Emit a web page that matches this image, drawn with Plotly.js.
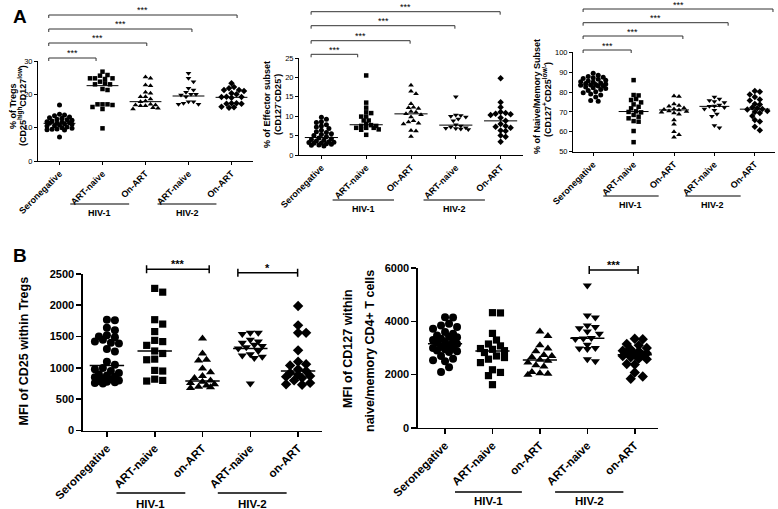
<!DOCTYPE html>
<html><head><meta charset="utf-8">
<script src="https://cdn.plot.ly/plotly-3.0.1.min.js"></script>
<style>body{margin:0;background:#fff}#chart{width:778px;height:509px}</style>
</head><body><div id="chart"></div>
<script>
const W=778,H=509;
const catsA=['Seronegative','ART-naive','On-ART','ART-naive','On-ART'];
const catsB=['Seronegative','ART-naive','on-ART','ART-naive','on-ART'];
const groupNames=['HIV-1','HIV-2'];
const symbols=['circle','square','triangle-up','triangle-down','diamond'];

// Panel A1: % of Tregs
const tregSero=[16.8,14.0,13.8,13.6,13.2,13.0,12.8,12.5,12.4,12.2,12.0,11.8,11.7,11.5,11.4,11.3,11.2,11.0,10.8,10.6,10.5,10.2,10.0,9.8,9.6,9.5,9.4,9.3,7.2];
const tregNaive1=[26.8,25.8,25.6,24.8,24.8,24.8,24.6,23.8,23.3,23.0,23.0,21.6,21.3,17.0,17.0,17.0,16.8,16.2,15.6,9.8];
const tregArt1=[25.2,24.8,22.8,22.6,20.6,20.3,19.3,19.3,18.6,18.0,17.8,17.0,16.8,16.8,16.6,16.6,16.0,15.8,15.6];
const tregNaive2=[26.3,24.8,23.8,21.8,21.3,20.6,20.0,20.0,19.8,19.3,17.8,17.8,17.3,17.0,17.0];
const tregArt2=[23.3,22.2,21.8,21.3,21.3,21.0,20.3,20.0,19.3,19.2,19.2,19.0,17.3,17.3,17.2,17.2,16.3,16.1,16.0];
const tregMed=[11.3,22.6,17.8,19.5,19.1];

// Panel A2: % of Effector subset
const effSero=[9.7,9.2,8.6,8.4,7.8,7.5,7.2,6.8,6.4,6.0,5.8,5.5,5.3,5.0,4.7,4.4,4.2,4.0,3.8,3.6,3.4,3.3,3.2,3.1,3.0,2.9,2.8,2.6,2.5,2.3];
const effNaive1=[20.5,13.5,12.2,11.0,10.8,9.9,9.9,8.9,8.9,8.0,7.7,7.5,7.5,7.0,7.0,7.0,6.6,6.5,5.2];
const effArt1=[18.0,16.4,15.8,13.2,12.3,12.2,12.0,11.2,11.0,10.6,10.4,9.8,8.8,8.5,8.2,8.0,6.3,6.2,4.8];
const effNaive2=[15.0,10.3,10.2,10.0,9.8,9.3,8.8,7.8,7.5,7.2,7.0,6.9,6.8,6.7,6.6];
const effArt2=[19.8,13.6,12.3,11.1,10.8,10.6,10.5,10.3,9.6,8.8,8.0,7.5,7.3,7.0,6.3,6.2,5.0,4.7,3.4];
const effMed=[4.5,7.8,10.6,7.7,8.8];

// Panel A3: % of Naive/Memory subset
const nmSero=[89.4,88.5,87.8,87.5,87.2,86.8,86.5,86.0,85.6,85.2,85.0,84.6,84.3,84.0,83.8,83.6,83.4,83.2,83.0,82.6,82.2,81.8,81.3,80.8,80.2,79.6,79.0,78.5,77.5,75.8,75.4];
const nmNaive1=[86.0,78.5,78.3,76.5,76.0,74.8,73.8,72.6,71.8,70.3,70.0,69.8,68.5,67.6,66.8,65.4,65.1,60.4,54.8];
const nmArt1=[78.0,77.8,74.0,73.2,72.8,72.0,71.5,71.2,71.0,70.5,70.2,69.8,69.5,68.8,66.0,63.8,60.0,58.5,57.3];
const nmNaive2=[77.5,76.5,75.8,75.2,74.8,73.5,73.0,72.8,72.2,71.5,70.8,69.0,67.8,63.2,62.0];
const nmArt2=[80.5,80.2,78.8,77.5,76.2,75.8,74.0,73.8,72.2,71.8,71.5,71.2,70.5,70.0,69.5,68.0,66.0,65.2,62.5,60.8];
const nmMed=[83.6,70.2,71.0,72.8,71.4];

// Panel B1: MFI of CD25 within Tregs
const cd25Sero=[1770,1760,1640,1600,1520,1500,1490,1450,1420,1400,1390,1300,1260,1100,1050,1000,980,950,920,900,880,860,850,830,820,800,790,780,770,760,750];
const cd25Naive1=[2270,2210,1770,1700,1580,1440,1420,1360,1270,1230,1140,1130,960,950,820,800,790];
const cd25Art1=[1470,1230,1130,1120,990,930,870,840,800,780,760,740,720,700,690,680];
const cd25Naive2=[1560,1560,1540,1450,1420,1400,1370,1350,1330,1310,1270,1220,1200,1180,1160,750];
const cd25Art2=[1990,1680,1560,1560,1280,1100,1060,1040,980,950,920,890,870,860,840,800,760,740,730];
const cd25Med=[1040,1270,790,1310,950];

// Panel B2: MFI of CD127 within naive/memory CD4+ T cells
const cd127Sero=[4160,4150,3910,3850,3790,3725,3600,3540,3475,3420,3400,3350,3300,3250,3225,3200,3150,3100,3050,3000,2975,2950,2910,2880,2850,2700,2600,2540,2500,2280,2100];
const cd127Naive1=[4330,4320,3550,3300,3150,3080,2980,2950,2900,2830,2700,2640,2580,2450,2180,2080,1960,1620];
const cd127Art1=[3620,3450,3100,2980,2880,2740,2700,2660,2560,2520,2450,2350,2300,2100,2050,2030,1990];
const cd127Naive2=[5350,4220,4150,3850,3790,3740,3620,3540,3380,3360,3340,3120,3000,2980,2960,2580,2500];
const cd127Art2=[3350,3330,3150,3100,3000,2950,2900,2880,2850,2800,2760,2740,2700,2650,2600,2580,2400,2380,2080,1930,1840];
const cd127Med=[3160,2890,2550,3370,2750];

const FONT='Liberation Sans, Arial, sans-serif';
const px=x=>x/W, py=y=>1-y/H;

const panels=[
 {xa:'x',ya:'y',xd:[38,253],yd:[161,61],yr:[0,30],dtick:10,xr:[-0.5,4.5],
  series:[tregSero,tregNaive1,tregArt1,tregNaive2,tregArt2],med:tregMed,ms:5,cats:catsA,
  lw:1,tl:3,tickFont:9,ytickFont:7.5,maxOff:14,medHalf:0.37,medW:1,
  brk:{style:'A',left:[-0.25,-0.25,-0.25,-0.25],right:[0.85,2.03,3.08,4.13],ys:[58,43,29,15],text:['***','***','***','***'],font:9},
  grp:{lineY:204,labY:213,font:9,x1:[0.25,1.62],x2:[2.28,3.65]},
  titles:[{t:'% of Tregs',x:13,y:106},{t:'(CD25<sup>high</sup>CD127<sup>low</sup>)',x:22,y:106}],tfont:9},
 {xa:'x2',ya:'y2',xd:[299,523],yd:[155,58],yr:[0,25],dtick:5,xr:[-0.5,4.5],
  series:[effSero,effNaive1,effArt1,effNaive2,effArt2],med:effMed,ms:5,cats:catsA,
  lw:1,tl:3,tickFont:9,ytickFont:7.5,maxOff:14,medHalf:0.37,medW:1,
  brk:{style:'A',left:[-0.23,-0.23,-0.23,-0.23],right:[0.81,1.98,2.98,3.99],ys:[54.3,40.7,25.7,11.7],text:['***','***','***','***'],font:9},
  grp:{lineY:200,labY:209,font:9,x1:[0.25,1.62],x2:[2.28,3.65]},
  titles:[{t:'% of Effector subset',x:267,y:105},{t:'(CD127<sup>-</sup>CD25<sup>-</sup>)',x:277,y:105}],tfont:9},
 {xa:'x3',ya:'y3',xd:[573,775],yd:[151.7,52.3],yr:[50,100],dtick:10,xr:[-0.5,4.5],
  series:[nmSero,nmNaive1,nmArt1,nmNaive2,nmArt2],med:nmMed,ms:5,cats:catsA,
  lw:1,tl:3,tickFont:9,ytickFont:7.5,maxOff:13,medHalf:0.37,medW:1,
  brk:{style:'A',left:[-0.25,-0.25,-0.25,-0.25],right:[0.94,2.22,3.34,4.45],ys:[50,36,22.7,9],text:['***','***','***','***'],font:9},
  grp:{lineY:196,labY:205,font:9,x1:[0.25,1.62],x2:[2.28,3.65]},
  titles:[{t:'% of Naive/Memory Subset',x:537,y:97},{t:'(CD127<sup>+</sup>CD25<sup>low/-</sup>)',x:547,y:100}],tfont:9},
 {xa:'x4',ya:'y4',xd:[83,322],yd:[430.5,274],yr:[0,2500],dtick:500,xr:[-0.5,4.5],
  series:[cd25Sero,cd25Naive1,cd25Art1,cd25Naive2,cd25Art2],med:cd25Med,ms:8,cats:catsB,
  lw:1.6,tl:5,tickFont:11.5,ytickFont:11,maxOff:13,medHalf:0.36,medW:1.5,
  brk:{style:'B',left:[0.83,2.74],right:[2.14,3.99],ys:[269.3,272.7],text:['***','*'],font:11},
  grp:{lineY:493,labY:504,font:11.5,x1:[0.2,1.64],x2:[2.32,3.76]},
  titles:[{t:'MFI of CD25 within Tregs',x:23,y:351.5}],tfont:12.5},
 {xa:'x5',ya:'y5',xd:[418,658],yd:[427.7,268.3],yr:[0,6000],dtick:2000,xr:[-0.57,4.49],
  series:[cd127Sero,cd127Naive1,cd127Art1,cd127Naive2,cd127Art2],med:cd127Med,ms:8,cats:catsB,
  lw:1.6,tl:5,tickFont:11.5,ytickFont:11,maxOff:13,medHalf:0.36,medW:1.5,
  brk:{style:'B',left:[3.04],right:[4.07],ys:[270],text:['***'],font:11},
  grp:{lineY:492,labY:501,font:11.5,x1:[0.21,1.62],x2:[2.32,3.76]},
  titles:[{t:'MFI of CD127 within',x:348,y:349},{t:'naive/memory CD4+ T cells',x:370,y:351}],tfont:12.5}
];

// deterministic beeswarm offsets (pixel based)
function swarm(vals,pxPerY,pxPerCat,size,maxOff){
  const placed=[],xs=[];
  const step=size*0.5,minD=size*0.85;
  vals.forEach(v=>{
    const yp=v*pxPerY;
    const cands=[0];
    for(let k=1;k*step<=maxOff;k++){cands.push(k*step,-k*step);}
    let best=0,bestScore=-1;
    for(const c of cands){
      let md=Infinity;
      for(const p of placed){const d=Math.hypot(p[0]-c,p[1]-yp);if(d<md)md=d;}
      if(md>=minD){best=c;break;}
      if(md>bestScore){bestScore=md;best=c;}
    }
    placed.push([best,yp]);xs.push(best/pxPerCat);
  });
  return xs;
}

const traces=[],shapes=[],annotations=[];
const layout={width:W,height:H,autosize:false,margin:{l:0,r:0,t:0,b:0},
  paper_bgcolor:'#fff',plot_bgcolor:'rgba(0,0,0,0)',showlegend:false,
  font:{family:FONT,color:'#000'}};

panels.forEach((p,pi)=>{
  const xk=p.xa==='x'?'xaxis':'xaxis'+p.xa.slice(1);
  const yk=p.ya==='y'?'yaxis':'yaxis'+p.ya.slice(1);
  const bold=p.ms>5;
  layout[xk]={domain:[px(p.xd[0]),px(p.xd[1])],range:p.xr,anchor:p.ya,
    tickmode:'array',tickvals:[0,1,2,3,4],ticktext:p.cats,tickangle:-45,
    showline:true,linecolor:'#000',linewidth:p.lw,ticks:'outside',ticklen:p.tl,tickwidth:p.lw,tickcolor:'#000',
    showgrid:false,zeroline:false,fixedrange:true,
    tickfont:{family:FONT,size:p.tickFont,color:'#000',weight:'bold'}};
  layout[yk]={domain:[py(p.yd[0]),py(p.yd[1])],range:p.yr,anchor:p.xa,
    tickmode:'linear',tick0:p.yr[0],dtick:p.dtick,
    showline:true,linecolor:'#000',linewidth:p.lw,ticks:'outside',ticklen:p.tl,tickwidth:p.lw,tickcolor:'#000',
    showgrid:false,zeroline:false,fixedrange:true,
    tickfont:{family:FONT,size:p.ytickFont,color:'#000',weight:bold?'bold':'normal'}};
  const pxPerY=(p.yd[0]-p.yd[1])/(p.yr[1]-p.yr[0]);
  const pxPerCat=(p.xd[1]-p.xd[0])/(p.xr[1]-p.xr[0]);
  p.series.forEach((vals,gi)=>{
    const offs=swarm(vals,pxPerY,pxPerCat,p.ms,p.maxOff);
    traces.push({type:'scatter',mode:'markers',x:offs.map(o=>gi+o),y:vals,
      xaxis:p.xa,yaxis:p.ya,cliponaxis:false,hoverinfo:'skip',
      marker:{symbol:symbols[gi],size:symbols[gi]==='square'?p.ms*0.9:p.ms,color:'#000',line:{width:0}}});
    shapes.push({type:'line',xref:p.xa,yref:p.ya,x0:gi-p.medHalf,x1:gi+p.medHalf,y0:p.med[gi],y1:p.med[gi],
      line:{color:'#000',width:p.medW}});
  });
  const b=p.brk;
  b.ys.forEach((yy,i)=>{
    const xl=b.left[i],xr=b.right[i];
    const y=py(yy);
    if(b.style==='A'){
      const d=3/H;
      shapes.push({type:'path',xref:p.xa,yref:'paper',
        path:`M ${xl},${y-d} L ${xl},${y} L ${xr},${y} L ${xr},${y-d}`,line:{color:'#333',width:1}});
      annotations.push({xref:p.xa,yref:'paper',x:(xl+xr)/2,y:py(yy-4.5),text:b.text[i],showarrow:false,
        xanchor:'center',yanchor:'middle',font:{family:FONT,size:b.font,color:'#000',weight:'normal'}});
    }else{
      const d=4/H;
      shapes.push({type:'path',xref:p.xa,yref:'paper',
        path:`M ${xl},${y-d} L ${xl},${y+d} M ${xl},${y} L ${xr},${y} M ${xr},${y-d} L ${xr},${y+d}`,line:{color:'#000',width:1.5}});
      annotations.push({xref:p.xa,yref:'paper',x:(xl+xr)/2,y:py(yy-5),text:b.text[i],showarrow:false,
        xanchor:'center',yanchor:'middle',font:{family:FONT,size:b.font,color:'#000',weight:'bold'}});
    }
  });
  const g=p.grp;
  [g.x1,g.x2].forEach((xx,i)=>{
    shapes.push({type:'line',xref:p.xa,yref:'paper',x0:xx[0],x1:xx[1],y0:py(g.lineY),y1:py(g.lineY),
      line:{color:'#000',width:bold?1.3:1.2}});
    annotations.push({xref:p.xa,yref:'paper',x:(xx[0]+xx[1])/2,y:py(g.labY),text:groupNames[i],showarrow:false,
      xanchor:'center',yanchor:'middle',font:{family:FONT,size:g.font,color:'#000',weight:'bold'}});
  });
  p.titles.forEach(t=>{
    annotations.push({xref:'paper',yref:'paper',x:px(t.x),y:py(t.y),text:t.t,textangle:-90,showarrow:false,
      xanchor:'center',yanchor:'middle',font:{family:FONT,size:p.tfont,color:'#000',weight:'bold'}});
  });
});

annotations.push({xref:'paper',yref:'paper',x:px(19.5),y:py(16.5),text:'A',showarrow:false,xanchor:'center',yanchor:'middle',
  font:{family:FONT,size:19,color:'#000',weight:'bold'}});
annotations.push({xref:'paper',yref:'paper',x:px(19.5),y:py(256),text:'B',showarrow:false,xanchor:'center',yanchor:'middle',
  font:{family:FONT,size:19,color:'#000',weight:'bold'}});

layout.shapes=shapes;layout.annotations=annotations;
Plotly.newPlot('chart',traces,layout,{staticPlot:true,displayModeBar:false});
</script>
</body></html>
